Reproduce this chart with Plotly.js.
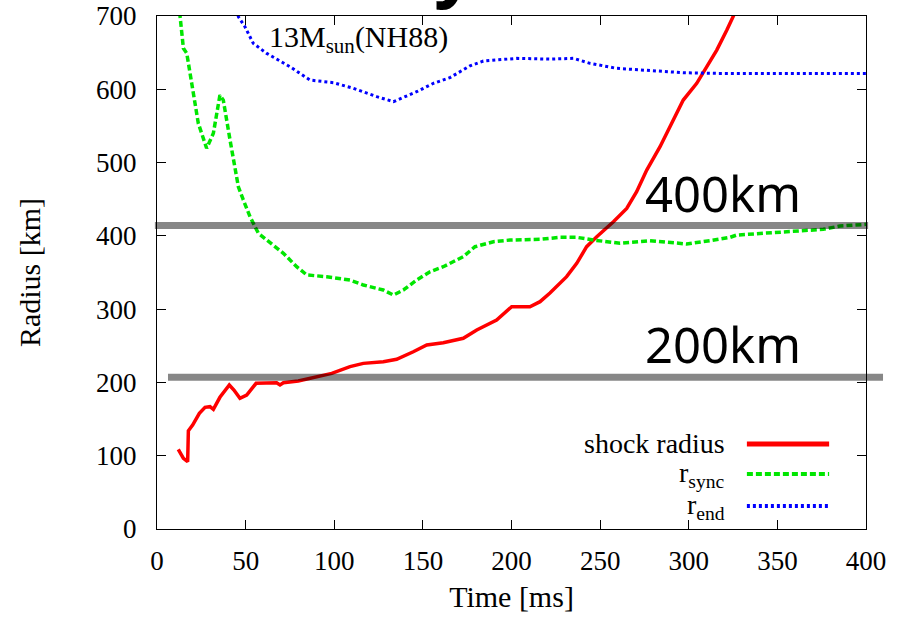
<!DOCTYPE html>
<html>
<head>
<meta charset="utf-8">
<script src="https://cdn.plot.ly/plotly-3.0.1.min.js"></script>
<style>html,body{margin:0;padding:0;background:#fff;}#chart{width:906px;height:626px;}</style>
</head>
<body>
<div id="chart"></div>
<script>
// Shock radius [km] vs time [ms]
const shockTime = [12.0,14.9,17.3,17.7,20.1,23.9,27.1,29.9,31.8,35.5,40.8,43.4,46.8,50.6,55.9,67.5,69.4,71.3,79.7,91,98.6,108.9,116.4,127.7,135.2,144.6,152.2,161.5,172.8,180.4,191.6,200.1,210.4,216.1,221.7,231.1,236.8,242.4,248.1,257.5,265,270.6,276.3,283.8,289.4,296.9,304.5,310.1,315.8,321.5,325.2,330];
const shockRadius = [108.7,96.4,91.8,134,141.9,157.8,166,166.9,163.3,179.7,196.5,189.6,178.3,182.8,198.8,199.6,196.5,199.6,202,207.8,212.4,221.5,226,228.3,231.5,241.9,251,254.2,260.2,271.5,285.2,303.3,303.3,310.2,322,344.3,362.5,385.2,398.8,419.3,437.5,460.2,489.8,521.6,548.9,585.3,608.1,630.8,653.5,680.8,700,725];

const syncTime = [12.5,13,14.9,16.8,19.6,23.3,28,31.8,35.5,37.4,41.2,44,45.9,48.7,52.5,57.2,61.9,71.3,78.8,84.5,95.7,108.9,116.4,127.7,133.4,139,146.5,154,161.5,172.8,179.4,189.8,199.2,208.6,216.1,227.4,236.8,246.2,261.2,278.1,298.8,312,323.3,327,343.9,360.9,375.9,385.3,400];
const syncRadius = [730,700,655.9,649,608,553.6,519.5,540,592,585.3,530.8,494.4,467,449,426,403.5,394.3,376.2,357.9,346.6,344.3,339.7,332.9,326.1,319.3,326.1,339.7,351,357.9,371.6,385.2,392,394.3,394.3,395.3,398,398,394.3,389.8,393.4,388.9,393.4,398,401.1,403.5,405.7,408.9,413.4,415.7];

const endTime = [44,45.9,49.6,54.3,61.9,75,86.3,99.5,110.8,124,133.4,146.5,155.9,165.3,176.6,184.1,202.9,221.7,234.9,244.3,259.3,278.1,296.9,315.8,334.6,353.4,372.2,400];
const endRadius = [725,699,685.4,662.7,649,630.8,612.6,609,601.3,589.9,583.1,596.7,608.1,616,632,638.5,642.2,641.2,642.2,635.4,628.6,625.4,622.6,621.7,621.7,620.8,620.8,621.7];

const refLevels = [414, 207];
const refLabels = ['400km', '200km'];
const xTickVals = [0,50,100,150,200,250,300,350,400];
const yTickVals = [0,100,200,300,400,500,600,700];
const legendNames = ['shock radius', 'r<sub>sync</sub>', 'r<sub>end</sub>'];
const modelLabel = '13M<sub>sun</sub>(NH88)';

const serif = '"Times New Roman", "Liberation Serif", serif';
const colors = ['#ff0000', 'rgb(0,230,0)', '#0000ff'];
const dashes = ['solid', '6px,3px', '3px,3px'];

const traces = [
  {x: shockTime, y: shockRadius, mode: 'lines', line: {color: colors[0], width: 3.5}, showlegend: false},
  {x: syncTime, y: syncRadius, mode: 'lines', line: {color: colors[1], width: 3.5, dash: dashes[1]}, showlegend: false},
  {x: endTime, y: endRadius, mode: 'lines', line: {color: colors[2], width: 3, dash: dashes[2]}, showlegend: false}
];

const shapes = [];
const annotations = [];
// reference levels (grey translucent bands)
const refX = [[-0.003, 1.003], [0.0155, 1.024]];
refLevels.forEach((v, i) => {
  shapes.push({type: 'line', xref: 'paper', yref: 'y', x0: refX[i][0], x1: refX[i][1], y0: v, y1: v,
    line: {color: 'rgba(0,0,0,0.47)', width: 7}, layer: 'above'});
  annotations.push({xref: 'paper', yref: 'y', x: 0.6855, y: v, xanchor: 'left', yanchor: 'bottom',
    text: refLabels[i], showarrow: false, yshift: -2,
    font: {family: 'Noto Sans', size: 49, color: '#000'}});
});

// manual legend
const legY = [0.1657, 0.1072, 0.0448];
legendNames.forEach((n, i) => {
  annotations.push({xref: 'paper', yref: 'paper', x: 0.804, y: legY[i], xanchor: 'right', yanchor: 'middle',
    text: n, showarrow: false, font: {family: serif, size: 28, color: '#000'}});
  shapes.push({type: 'line', xref: 'paper', yref: 'paper', x0: 0.832, x1: 0.948, y0: legY[i], y1: legY[i],
    line: {color: colors[i], width: i === 0 ? 5 : 4, dash: dashes[i]}});
});

annotations.push({xref: 'paper', yref: 'paper', x: 0.155, y: 0.955, xanchor: 'left', yanchor: 'middle',
  text: modelLabel, showarrow: false, font: {family: serif, size: 30, color: '#000'}});

// cut-off slide title fragment
annotations.push({xref: 'paper', yref: 'paper', x: 0.42, y: 1, xanchor: 'center', yanchor: 'bottom',
  text: '<b>y</b>', showarrow: false, font: {family: 'Noto Sans', size: 72, color: '#000'}});

const layout = {
  width: 906, height: 626,
  margin: {l: 157, r: 40, t: 16, b: 97},
  paper_bgcolor: '#fff', plot_bgcolor: '#fff',
  showlegend: false,
  font: {family: serif, color: '#000'},
  xaxis: {
    range: [0, 400], tickvals: xTickVals, ticks: 'inside', ticklen: 9, tickcolor: '#000',
    showline: true, linecolor: '#000', linewidth: 1, mirror: 'ticks', showgrid: false, zeroline: false,
    tickfont: {family: serif, size: 27, color: '#000'}, ticklabelstandoff: 8,
    title: {text: 'Time [ms]', font: {family: serif, size: 30, color: '#000'}, standoff: 10}
  },
  yaxis: {
    range: [0, 700], tickvals: yTickVals, ticks: 'inside', ticklen: 9, tickcolor: '#000',
    showline: true, linecolor: '#000', linewidth: 1, mirror: 'ticks', showgrid: false, zeroline: false,
    tickfont: {family: serif, size: 27, color: '#000'}, ticklabelstandoff: 14,
    title: {text: 'Radius [km]', font: {family: serif, size: 30, color: '#000'}, standoff: 46}
  },
  shapes: shapes,
  annotations: annotations
};

Plotly.newPlot('chart', traces, layout, {displayModeBar: false, staticPlot: true});
</script>
</body>
</html>
